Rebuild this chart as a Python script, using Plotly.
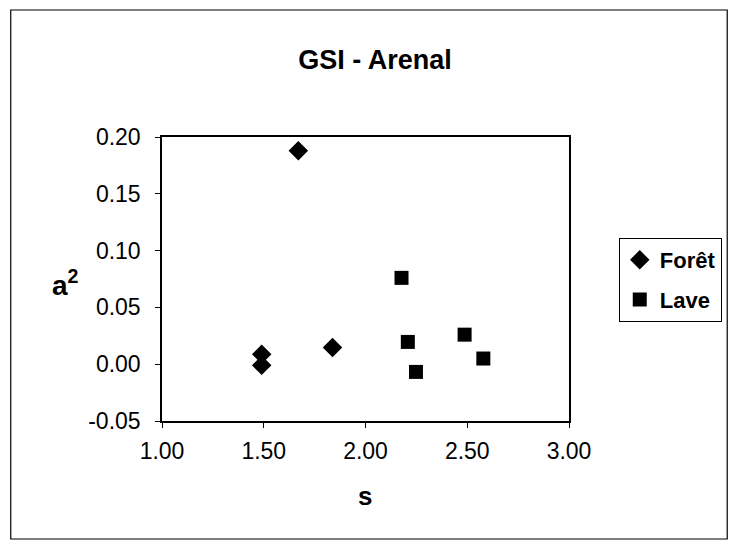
import plotly.graph_objects as go

foret_s = [1.67, 1.838, 1.49, 1.49]
foret_a2 = [0.188, 0.0146, 0.0088, -0.001]
lave_s = [2.177, 2.208, 2.248, 2.487, 2.579]
lave_a2 = [0.076, 0.0196, -0.0068, 0.026, 0.005]

x_ticks = [1.0, 1.5, 2.0, 2.5, 3.0]
y_ticks = [-0.05, 0.0, 0.05, 0.10, 0.15, 0.20]

fig = go.Figure()
fig.add_trace(go.Scatter(x=foret_s, y=foret_a2, mode="markers", name="<b>Forêt</b>",
                         legendgroup="f",
                         marker=dict(symbol="diamond", size=15, color="black")))
fig.add_trace(go.Scatter(x=lave_s, y=lave_a2, mode="markers", name="<b>Lave</b>",
                         legendgroup="l",
                         marker=dict(symbol="square", size=14, color="black")))

font_family = "Liberation Sans, Arial, sans-serif"
L, R, T, B = 162, 571, 137, 421
W, H = R - L, B - T
fig.update_layout(
    width=734, height=543,
    margin=dict(l=L, r=734 - R, t=T, b=543 - B),
    paper_bgcolor="white", plot_bgcolor="white",
    font=dict(family=font_family, color="black", size=22),
    title=dict(text="<b>GSI - Arenal</b>", xref="paper", x=(376 - L) / W, xanchor="center",
               y=1 - 60 / 543, yanchor="middle",
               font=dict(size=27)),
    showlegend=True,
    legend=dict(x=(621 - L) / W, xanchor="left", y=(B - 238) / H, yanchor="top",
                bordercolor="black", borderwidth=1, bgcolor="white",
                font=dict(size=22), itemwidth=30, traceorder="grouped", tracegroupgap=8),
    xaxis=dict(range=[1.0, 3.0], tickvals=x_ticks, ticktext=[f"{v:.2f}" for v in x_ticks],
               showgrid=False, zeroline=False, showline=True, linecolor="black", linewidth=1.5,
               mirror=True, ticks="outside", ticklen=5, tickcolor="black",
               ticklabelstandoff=4, tickfont=dict(size=23)),
    yaxis=dict(range=[-0.05, 0.20], tickvals=y_ticks, ticktext=[f"{v:.2f}" for v in y_ticks],
               showgrid=False, zeroline=False, showline=True, linecolor="black", linewidth=1.5,
               mirror=True, ticks="outside", ticklen=5, tickcolor="black",
               ticklabelstandoff=10, tickfont=dict(size=23)),
)
fig.add_annotation(text="<b>a<sup>2</sup></b>", xref="paper", yref="paper",
                   x=(65 - L) / W, y=(B - 283) / H, showarrow=False,
                   font=dict(size=28), xanchor="center", yanchor="middle")
fig.add_annotation(text="<b>s</b>", xref="paper", yref="paper",
                   x=(366 - L) / W, y=(B - 496) / H, showarrow=False,
                   font=dict(size=26), xanchor="center", yanchor="middle")
fig.add_shape(type="rect", xref="paper", yref="paper",
              x0=(10 - L) / W, x1=(730 - L) / W,
              y0=(B - 539) / H, y1=(B - 10) / H,
              line=dict(color="black", width=1.2), layer="below")

fig.write_html("out.html", config={"displayModeBar": False},
               post_script="document.body.style.margin='0px';")
